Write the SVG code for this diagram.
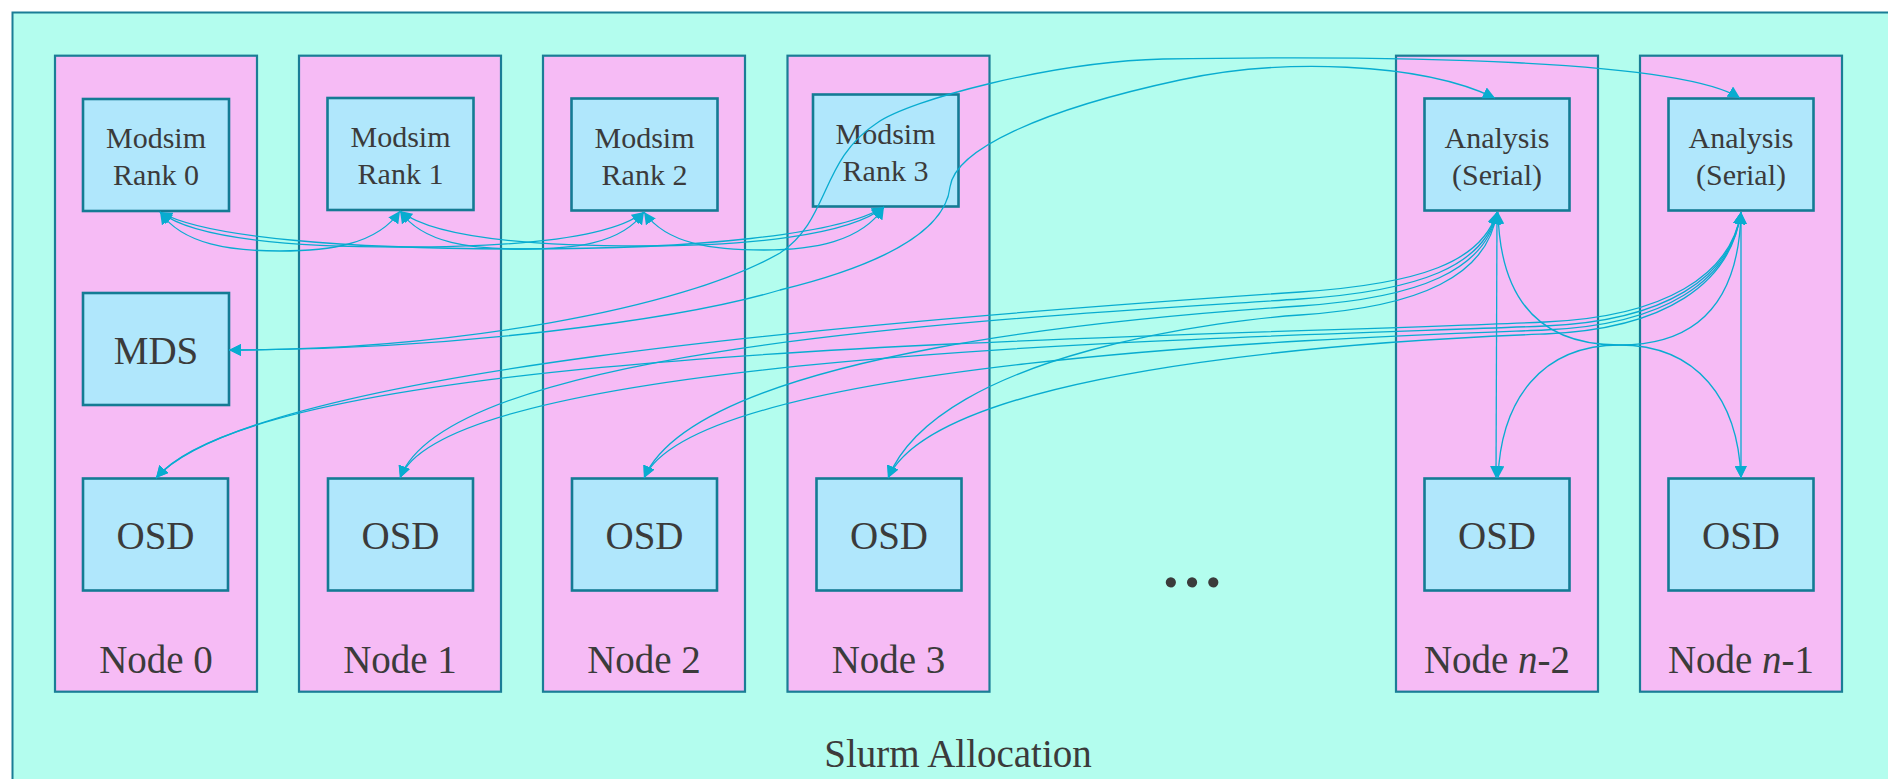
<svg xmlns="http://www.w3.org/2000/svg" width="1888" height="779" viewBox="0 0 1888 779">
  <style>
    .frame { fill: #b3fdee; stroke: #1a7d96; stroke-width: 2; }
    .col { fill: #f6bbf5; stroke: #1a7d96; stroke-width: 2.2; }
    .box { fill: #b0e7fc; stroke: #147b94; stroke-width: 2.6; }
    .t { font-family: "Liberation Serif", "Times New Roman", serif; fill: #3b3b3b; text-anchor: middle; }
    .sm { font-size: 30px; }
    .lg { font-size: 39px; }
    .edge { fill: none; stroke: #08acd0; stroke-width: 1.3; marker-start: url(#ah); marker-end: url(#ah); }
  </style>
  <defs>
    <marker id="ah" viewBox="0 0 12 12" refX="12" refY="6" markerWidth="12" markerHeight="12" markerUnits="userSpaceOnUse" orient="auto-start-reverse">
      <path d="M0,0 L12,6 L0,12 z" fill="#08acd0"/>
    </marker>
  </defs>

  <rect x="0" y="0" width="1888" height="779" fill="#ffffff"/>

  <!-- Slurm allocation cluster -->
  <g id="allocation">
    <rect class="frame" x="12.5" y="12.5" width="1892" height="800"/>
    <text class="t lg" x="958" y="767">Slurm Allocation</text>
    <text class="t" x="1192" y="587" style="font-size:63px;font-weight:bold">…</text>
  </g>

  <!-- compute nodes -->
  <g id="node0">
    <rect class="col" x="55" y="55.7" width="202" height="636"/>
    <text class="t lg" x="156" y="673">Node 0</text>
  </g>
  <g id="node1">
    <rect class="col" x="299" y="55.7" width="202" height="636"/>
    <text class="t lg" x="400" y="673">Node 1</text>
  </g>
  <g id="node2">
    <rect class="col" x="543" y="55.7" width="202" height="636"/>
    <text class="t lg" x="644" y="673">Node 2</text>
  </g>
  <g id="node3">
    <rect class="col" x="787.5" y="55.7" width="202" height="636"/>
    <text class="t lg" x="888.5" y="673">Node 3</text>
  </g>
  <g id="node_n2">
    <rect class="col" x="1396" y="55.7" width="202" height="636"/>
    <text class="t lg" x="1497" y="673">Node <tspan font-style="italic">n</tspan>-2</text>
  </g>
  <g id="node_n1">
    <rect class="col" x="1640" y="55.7" width="202" height="636"/>
    <text class="t lg" x="1741" y="673">Node <tspan font-style="italic">n</tspan>-1</text>
  </g>

  <!-- processes -->
  <g id="rank0">
    <rect class="box" x="83" y="99" width="146" height="112"/>
    <text class="t sm" x="156" y="148">Modsim</text>
    <text class="t sm" x="156" y="185">Rank 0</text>
  </g>
  <g id="rank1">
    <rect class="box" x="327.5" y="98" width="146" height="112"/>
    <text class="t sm" x="400.5" y="147">Modsim</text>
    <text class="t sm" x="400.5" y="184">Rank 1</text>
  </g>
  <g id="rank2">
    <rect class="box" x="571.5" y="98.5" width="146" height="112"/>
    <text class="t sm" x="644.5" y="147.5">Modsim</text>
    <text class="t sm" x="644.5" y="184.5">Rank 2</text>
  </g>
  <g id="rank3">
    <rect class="box" x="813" y="94.5" width="145.5" height="112"/>
    <text class="t sm" x="885.5" y="144">Modsim</text>
    <text class="t sm" x="885.5" y="180.5">Rank 3</text>
  </g>
  <g id="mds">
    <rect class="box" x="83" y="293" width="146" height="112"/>
    <text class="t lg" x="156" y="363.5">MDS</text>
  </g>
  <g id="analysis_n2">
    <rect class="box" x="1424.5" y="98.5" width="145" height="112"/>
    <text class="t sm" x="1497" y="147.5">Analysis</text>
    <text class="t sm" x="1497" y="184.5">(Serial)</text>
  </g>
  <g id="analysis_n1">
    <rect class="box" x="1668.5" y="98.5" width="145" height="112"/>
    <text class="t sm" x="1741" y="147.5">Analysis</text>
    <text class="t sm" x="1741" y="184.5">(Serial)</text>
  </g>
  <g id="osd0">
    <rect class="box" x="83" y="478.5" width="145" height="112"/>
    <text class="t lg" x="155.5" y="548.5">OSD</text>
  </g>
  <g id="osd1">
    <rect class="box" x="328" y="478.5" width="145" height="112"/>
    <text class="t lg" x="400.5" y="548.5">OSD</text>
  </g>
  <g id="osd2">
    <rect class="box" x="572" y="478.5" width="145" height="112"/>
    <text class="t lg" x="644.5" y="548.5">OSD</text>
  </g>
  <g id="osd3">
    <rect class="box" x="816.5" y="478.5" width="145" height="112"/>
    <text class="t lg" x="889" y="548.5">OSD</text>
  </g>
  <g id="osd_n2">
    <rect class="box" x="1424.5" y="478.5" width="145" height="112"/>
    <text class="t lg" x="1497" y="548.5">OSD</text>
  </g>
  <g id="osd_n1">
    <rect class="box" x="1668.5" y="478.5" width="145" height="112"/>
    <text class="t lg" x="1741" y="548.5">OSD</text>
  </g>

  <!-- connectors -->
  <g id="connectors">
    <!-- modsim rank to rank -->
    <path class="edge" d="M160,212 C183,245 232,251 280,251 C328,251 377,245 400,211"/>
    <path class="edge" d="M400,211 C423,244 473,249 522,249 C571,249 621,245 644,212"/>
    <path class="edge" d="M644,212 C667,245 715,250 764,250 C813,250 861,242 884,207"/>
    <path class="edge" d="M160,212 C195,240 300,247 402,247 C504,247 609,240 644,212"/>
    <path class="edge" d="M400,211 C435,239 540,246 642,246 C744,246 849,236 884,207"/>
    <path class="edge" d="M160,212 C205,238 350,249 522,249 C694,249 839,235 884,207"/>

    <!-- MDS to analysis -->
    <path class="edge" d="M229,350 C450,350 680,310 780,253 C830,220 820,160 877,123 C910,100 1050,62 1163,59 C1400,55 1680,60 1740,98"/>
    <path class="edge" d="M229,350 C450,350 680,320 780,290 C870,268 945,235 950,187 C955,150 1040,110 1180,80 C1280,58 1420,62 1495,98"/>

    <!-- analysis n-2 to OSDs -->
    <path class="edge" d="M1497,212 C1482,262 1420,284 1300,292 C850,322 250,372 156,478"/>
    <path class="edge" d="M1497,212 C1484,266 1420,291 1300,299 C1000,319 450,345 400,478"/>
    <path class="edge" d="M1497,212 C1486,270 1420,298 1300,306 C1150,316 700,350 644,478"/>
    <path class="edge" d="M1497,212 C1488,276 1420,307 1300,315 C1240,319 940,350 888,478"/>
    <path class="edge" d="M1497,212 L1496,478"/>
    <path class="edge" d="M1498,212 C1500,300 1540,345 1619,345 C1698,345 1738,400 1741,478"/>

    <!-- analysis n-1 to OSDs -->
    <path class="edge" d="M1741,212 C1731,275 1665,317 1545,322 C1095,341 270,345 156,478"/>
    <path class="edge" d="M1741,212 C1731,278 1665,321 1545,326 C1245,338.5 450,350 400,478"/>
    <path class="edge" d="M1741,212 C1731,281 1665,325 1545,330 C1395,336 700,355 644,478"/>
    <path class="edge" d="M1741,212 C1731,284 1665,329 1545,334 C1470,337 945,355 888,478"/>
    <path class="edge" d="M1741,212 L1741,478"/>
    <path class="edge" d="M1741,212 C1739,300 1699,345 1620,345 C1541,345 1501,400 1498,478"/>
  </g>
</svg>
